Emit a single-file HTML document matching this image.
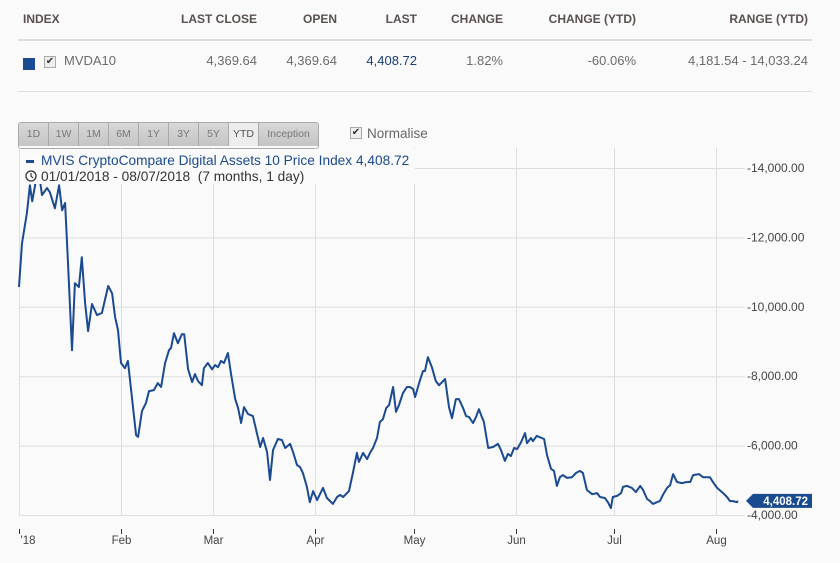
<!DOCTYPE html>
<html><head><meta charset="utf-8"><style>
body{margin:0;background:#fafafa;font-family:"Liberation Sans",sans-serif;}
#wrap{position:relative;width:840px;height:563px;overflow:hidden;background:#fafafa;}
.th{position:absolute;top:12px;font-size:12px;font-weight:bold;color:#5a5150;}
.td{position:absolute;top:53px;font-size:13px;color:#6b6b6b;}
.r{text-align:right}
.btn{position:absolute;top:123px;height:23px;line-height:23px;font-size:10.5px;color:#777;text-align:center;background:linear-gradient(#d8d8d8,#c4c4c4);border-right:1px solid #aaa;}
</style></head><body>
<div id="wrap">
<div class="th" style="left:23px">INDEX</div>
<div class="th r" style="left:150px;width:107px">LAST CLOSE</div>
<div class="th r" style="left:260px;width:77px">OPEN</div>
<div class="th r" style="left:340px;width:77px">LAST</div>
<div class="th r" style="left:420px;width:83px">CHANGE</div>
<div class="th r" style="left:510px;width:126px">CHANGE (YTD)</div>
<div class="th r" style="left:640px;width:168px">RANGE (YTD)</div>
<div style="position:absolute;left:18px;top:39px;width:794px;height:2px;background:#ddd"></div>
<div style="position:absolute;left:23px;top:58px;width:12px;height:12px;background:#1a4a8f"></div>
<div style="position:absolute;left:44px;top:56px;width:10px;height:10px;border:1px solid #aaa;background:#eee;font-size:10px;line-height:10px;text-align:center;color:#333">✔</div>
<div class="td" style="left:64px">MVDA10</div>
<div class="td r" style="left:150px;width:107px">4,369.64</div>
<div class="td r" style="left:260px;width:77px">4,369.64</div>
<div class="td r" style="left:340px;width:77px;color:#1a3f73">4,408.72</div>
<div class="td r" style="left:420px;width:83px">1.82%</div>
<div class="td r" style="left:510px;width:126px">-60.06%</div>
<div class="td r" style="left:640px;width:168px">4,181.54 - 14,033.24</div>
<div style="position:absolute;left:18px;top:91px;width:794px;height:1px;background:#ddd"></div>

<div style="position:absolute;left:18px;top:122px;width:299px;height:25px;border:1px solid #aaa;border-radius:3px;overflow:hidden">
<div class="btn" style="left:0;top:0;width:29px">1D</div>
<div class="btn" style="left:30px;top:0;width:29px">1W</div>
<div class="btn" style="left:60px;top:0;width:29px">1M</div>
<div class="btn" style="left:90px;top:0;width:29px">6M</div>
<div class="btn" style="left:120px;top:0;width:29px">1Y</div>
<div class="btn" style="left:150px;top:0;width:29px">3Y</div>
<div class="btn" style="left:180px;top:0;width:29px">5Y</div>
<div class="btn" style="left:210px;top:0;width:29px;background:#ececec;color:#555">YTD</div>
<div class="btn" style="left:240px;top:0;width:59px;border:none">Inception</div>
</div>
<div style="position:absolute;left:350px;top:127px;width:10px;height:10px;border:1px solid #aaa;background:#eee;font-size:10px;line-height:10px;text-align:center;color:#333">✔</div>
<div style="position:absolute;left:367px;top:126px;font-size:13.5px;color:#666">Normalise</div>

<svg id="chart" width="840" height="563" style="position:absolute;left:0;top:0"></svg>
</div>
<script>
const days=[0,0.9,2.4,3.3,4,4.9,5.8,7,8.5,9.4,10.9,12.2,13.1,14,14.9,16.1,17,18.2,19.1,20.1,21,22.2,23.7,25.2,27.1,28.3,29.2,30.1,31,32.2,33.1,35.6,36.2,37.4,38.6,39.5,41,42.2,43.2,44.4,45.6,46.2,47.1,48.3,49.5,50.2,51.4,52.6,53.5,54.4,55.6,56.2,57.4,58.7,59.6,60.5,61.4,62.3,63.5,64.4,65.7,66.6,67.5,68.4,69.6,71.1,72.3,73.3,74.2,75.4,76.3,77.2,78.7,79.9,80.9,82.4,83.3,84.5,85.4,86.3,87.5,88.4,89.4,90.6,92.4,93.6,95.4,96.7,97.6,98.5,100.3,101.5,102.7,103.3,104.6,105.8,106.7,107.6,108.8,109.7,110.6,111.6,112.5,113.7,114.6,115.5,116.7,117.9,118.8,119.8,120.4,121.6,122.8,123.4,124.3,125.5,126.7,127.7,128.9,129.5,130.7,131.6,132.8,133.7,135,135.9,136.8,138,138.9,139.8,140.7,141.3,142.6,144.1,145.6,146.5,147.7,148.6,149.5,150.5,151.4,152.6,153.8,154.4,155.6,156.2,157.4,159.6,160.5,161.7,162.6,163.5,164.4,165.3,166.6,168.1,169.3,170.5,171.4,172.6,174.2,175.7,176.6,178.1,179,179.9,180.5,181.8,183,183.6,184.8,186.3,187.5,188.8,189.7,190.9,191.8,192.7,193.9,194.8,195.7,197,197.9,198.8,200,201.5,203,204,204.9,206.7,207.9,210,210.9,212.2,214,215.2,216.1,217,218.2,218.5];
const values=[10570,11830,12700,13500,13040,13500,14030,13220,13420,13300,12840,13500,12780,12990,11260,8750,10680,10570,11430,10110,9300,10080,9760,9820,10600,10390,9700,9330,8380,8230,8440,6300,6250,7000,7230,7570,7600,7800,7690,8380,8750,8810,9240,8950,9210,9210,8200,7830,8060,7860,7740,8230,8380,8200,8320,8260,8440,8380,8670,8090,7340,7080,6650,7110,6910,6850,6360,5960,6220,5810,5010,5870,6190,6160,5930,6050,5810,5440,5380,5210,4810,4370,4690,4430,4780,4490,4320,4520,4580,4520,4690,5210,5790,5530,5790,5610,5790,5930,6220,6680,6760,7080,7170,7690,6970,7170,7510,7690,7690,7630,7400,7800,8150,8150,8550,8260,7860,7740,7860,7920,7110,6790,7340,7340,7080,6850,6820,6650,6820,7050,6820,6680,5930,5960,6050,5870,5560,5760,5700,5930,5900,6100,6360,6070,6220,6130,6280,6190,5730,5330,5270,4840,5090,5150,5070,5090,5210,5270,5210,4720,4600,4630,4520,4490,4370,4200,4520,4550,4630,4810,4840,4780,4660,4840,4720,4460,4400,4320,4370,4400,4580,4780,4860,5180,4950,4920,4950,4950,5150,5180,5090,5090,4950,4780,4630,4520,4400,4400,4370,4408.72];
const yTicks=[4000,6000,8000,10000,12000,14000];
const yTickLabels=["4,000.00","6,000.00","8,000.00","10,000.00","12,000.00","14,000.00"];
const monthDays=[0,31,59,90,120,151,181,212];
const monthLabels=["'18","Feb","Mar","Apr","May","Jun","Jul","Aug"];
const lastLabel="4,408.72";

const NS="http://www.w3.org/2000/svg";
const svg=document.getElementById('chart');
const X=d=>19+d*3.29;
const Y=v=>515-(v-4000)*0.0347;
function mk(t,a,p){const e=document.createElementNS(NS,t);for(const k in a)e.setAttribute(k,a[k]);(p||svg).appendChild(e);return e;}

yTicks.forEach((v,i)=>{
  const g=mk('line',{x1:19,x2:745,y1:Y(v)+0.5,y2:Y(v)+0.5,stroke:'#dedede'});
  
  
  const t=mk('text',{x:747,y:Y(v)+4,'font-size':12,fill:'#444'});
  t.textContent='-'+yTickLabels[i];
  
  
});
monthDays.forEach((d,i)=>{
  const x=Math.round(X(d))+0.5;
  const g=mk('line',{x1:x,x2:x,y1:148,y2:515,stroke:'#dedede'});
  
  
  const tk=mk('line',{x1:x,x2:x,y1:529,y2:534,stroke:'#333'});
  
  
  const t=mk('text',{x:i==0?x+1:x,y:544,'font-size':11.5,fill:'#444','text-anchor':i==0?'start':'middle'});
  t.textContent=monthLabels[i];
  
  
});
const pts=days.map((d,i)=>X(d).toFixed(1)+','+Y(values[i]).toFixed(1)).join(' ');
const line=mk('polyline',{points:pts,fill:'none',stroke:'#1a4a8f','stroke-width':2,'stroke-linejoin':'round'});



const lg=mk('rect',{x:20,y:149,width:395,height:35,fill:'#fafafa'});


const lm=mk('rect',{x:26,y:160,width:8,height:3,fill:'#1a4a8f'});


const lt=mk('text',{x:41,y:165,'font-size':13.7,fill:'#1a4a8f'});
lt.textContent='MVIS CryptoCompare Digital Assets 10 Price Index 4,408.72';


const clk=mk('circle',{cx:31,cy:176,r:5,fill:'none',stroke:'#333','stroke-width':1.3});


mk('polyline',{points:'31,173 31,176 33,178',fill:'none',stroke:'#333','stroke-width':1.2});
const dt=mk('text',{x:41,y:181,'font-size':13.7,fill:'#333',style:'white-space:pre'});
dt.textContent='01/01/2018 - 08/07/2018  (7 months, 1 day)';



const ly=Y(values[values.length-1]);
const fl=mk('polygon',{points:`746,${ly} 753,${ly-7} 812,${ly-7} 812,${ly+7} 753,${ly+7}`,fill:'#1a4a8f'});


const ft=mk('text',{x:808,y:ly+4,'font-size':11.5,'font-weight':'bold',fill:'#fff','text-anchor':'end'});
ft.textContent=lastLabel;


</script>
</body></html>
